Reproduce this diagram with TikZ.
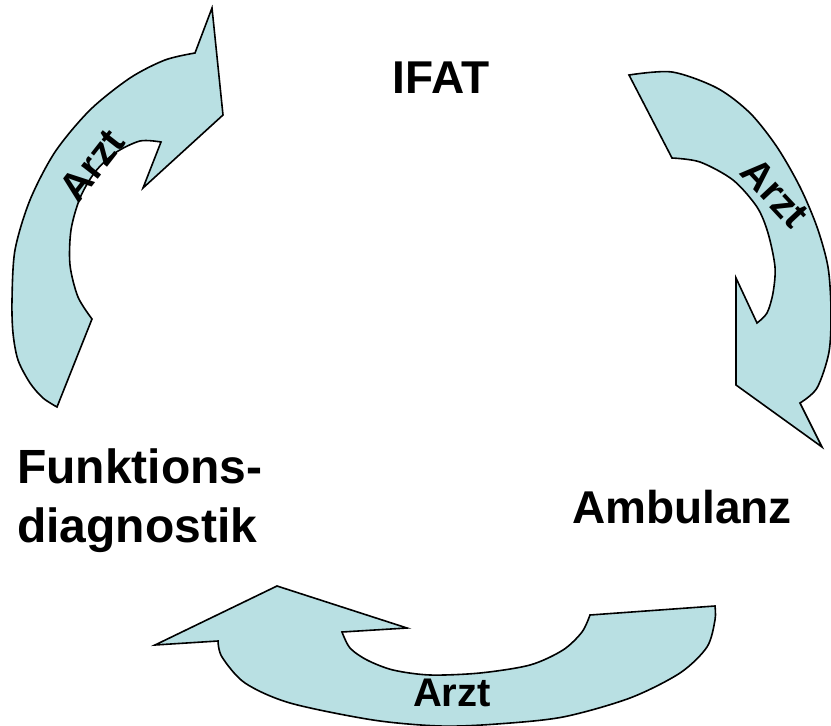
\documentclass[tikz,border=0pt]{standalone}
\usepackage{fontspec}
\setmainfont{Liberation Sans}
\definecolor{arrowblue}{RGB}{185,224,227}

\begin{document}
\begin{tikzpicture}[x=1pt, y=-1pt]
    \tikzstyle{block arrow}=[draw=black, fill=arrowblue, line width=1.6pt, line join=miter]
    \tikzstyle{station}=[inner sep=0pt, font=\fontsize{46}{59}\selectfont\bfseries]
    \tikzstyle{arzt}=[inner sep=0pt, font=\fontsize{40}{42}\selectfont\bfseries]

    \useasboundingbox (0,0) rectangle (831,726);

    % IFAT -> Funktionsdiagnostik (left)
    \draw[block arrow] plot[smooth] coordinates {(57,407) (43,398) (30,383) (18,360) (13,333) (12,300) (15,250) (30,200) (55,152) (90,110) (130,78) (165,60) (195,53)}
        -- (212,8) -- (223,115) -- (143,188)
        -- plot[smooth] coordinates {(161,142) (140,141) (115,153) (95,172) (80,198) (71,230) (70,265) (78,297) (92,319)}
        -- cycle;

    % IFAT -> Ambulanz (right)
    \draw[block arrow] plot[smooth] coordinates {(629,75) (672,72) (717,88) (750,113) (777,147) (800,187) (817,227) (828,267) (831,310) (829,352) (817,388) (800,403)}
        -- (822,447) -- (736,385) -- (736,278)
        -- plot[smooth] coordinates {(757,323) (767,313) (773,293) (775,267) (768,233) (757,207) (733,180) (700,162) (672,158)}
        -- cycle;

    % Ambulanz -> Funktionsdiagnostik (bottom)
    \draw[block arrow] (590,615) -- plot[smooth] coordinates {(715,606) (715,620) (707,647) (680,673) (630,698) (563,717) (497,724) (440,726) (373,720) (290,703) (245,683) (222,657) (218,641)}
        -- (155,645) -- (277,586) -- (407,628)
        -- plot[smooth] coordinates {(342,632) (350,648) (367,660) (393,670) (430,675) (480,673) (530,665) (563,650) (582,632) (590,615)}
        -- cycle;

    \node[station] (ifat) at (441,78) {IFAT};
    \node[station, anchor=base] (ambulanz) at (682,523) {Ambulanz};
    \node[station, font=\fontsize{48}{59}\selectfont\bfseries, anchor=north west, align=left] (funktion) at (17,449) {Funktions-\\diagnostik};

    \node[arzt, rotate=52] (arzt_l) at (92,165) {Arzt};
    \node[arzt, rotate=-47] (arzt_r) at (775,193) {Arzt};
    \node[arzt] (arzt_b) at (452,693) {Arzt};
\end{tikzpicture}
\end{document}
